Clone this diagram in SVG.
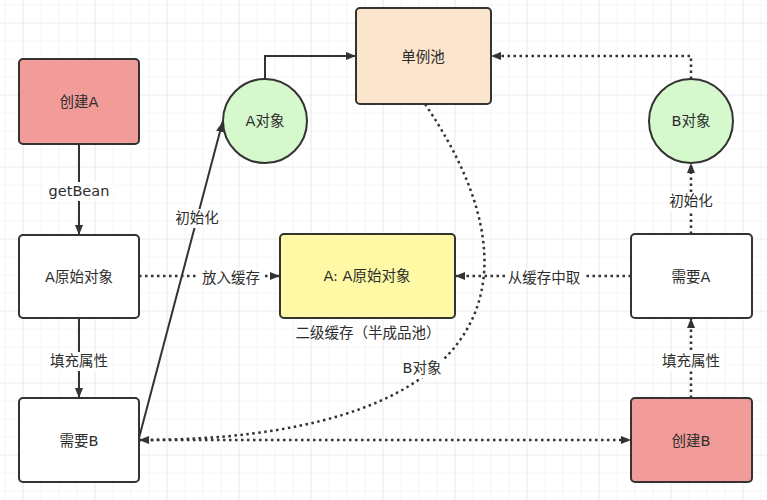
<svg xmlns="http://www.w3.org/2000/svg" width="767" height="500" viewBox="0 0 767 500">
<defs>
<pattern id="minor" x="4.5" y="4.5" width="18" height="18" patternUnits="userSpaceOnUse">
<path d="M0 0H18M0 0V18" fill="none" stroke="#efefef" stroke-width="1.2"/>
</pattern>
<pattern id="major" x="22.5" y="22.5" width="72" height="72" patternUnits="userSpaceOnUse">
<path d="M0 0H72M0 0V72" fill="none" stroke="#e3e3e3" stroke-width="1.2"/>
</pattern>
<marker id="arr" viewBox="0 0 10 10" refX="10" refY="5" markerWidth="10" markerHeight="10" markerUnits="userSpaceOnUse" orient="auto">
<path d="M0 1L10 5L0 9Z" fill="#333"/>
</marker>
</defs>
<style>
.box{stroke:#333;stroke-width:2}
.t{font-family:"DejaVu Sans","Noto Sans CJK SC",sans-serif;font-size:14.5px;fill:#2d2d2d;text-anchor:middle;dominant-baseline:central}
.ln{fill:none;stroke:#333;stroke-width:2}
.dot{fill:none;stroke:#333;stroke-width:2.5;stroke-dasharray:2.5 3.5}
.lb{fill:#fff}
</style>
<rect width="767" height="500" fill="#fff"/>
<rect width="767" height="500" fill="url(#minor)"/>
<rect width="767" height="500" fill="url(#major)"/>

<g id="connectors">
<path class="ln" d="M79 144V235" marker-end="url(#arr)"/>
<path class="ln" d="M79 318V398" marker-end="url(#arr)"/>
<path class="dot" d="M139 276H280" marker-end="url(#arr)"/>
<path class="ln" d="M139 438L222.5 122" marker-end="url(#arr)"/>
<path class="ln" d="M265 79V56H356" marker-end="url(#arr)"/>
<path class="dot" d="M691 79V56H491" marker-end="url(#arr)"/>
<path class="dot" d="M691 234V163" marker-end="url(#arr)"/>
<path class="dot" d="M631 276H455" marker-end="url(#arr)"/>
<path class="dot" d="M691 398V318" marker-end="url(#arr)"/>
<path class="dot" d="M139 440H631" marker-end="url(#arr)"/>
<path class="dot" d="M425 104C558 300 470 440 139 440" marker-end="url(#arr)"/>
<rect class="lb" x="45" y="182" width="68" height="19"/>
<text class="t" x="79" y="191">getBean</text>
<rect class="lb" x="46" y="352" width="66" height="19"/>
<text class="t" x="79" y="361">填充属性</text>
<rect class="lb" x="198" y="268" width="66" height="19"/>
<text class="t" x="231" y="278">放入缓存</text>
<rect class="lb" x="174" y="209" width="46" height="19"/>
<text class="t" x="197" y="218">初始化</text>
<rect class="lb" x="668" y="192" width="46" height="19"/>
<text class="t" x="691" y="201">初始化</text>
<rect class="lb" x="505" y="268" width="78" height="19"/>
<text class="t" x="544" y="278">从缓存中取</text>
<rect class="lb" x="658" y="352" width="66" height="19"/>
<text class="t" x="691" y="361">填充属性</text>
<rect class="lb" x="400" y="359" width="44" height="19"/>
<text class="t" x="422" y="368">B对象</text>
</g>

<g id="createA"><rect class="box" x="19" y="59" width="120" height="85" rx="4" fill="#f19c99"/><text class="t" x="79" y="102">创建A</text></g>
<g id="rawA"><rect class="box" x="19" y="235" width="120" height="83" rx="4" fill="#fff"/><text class="t" x="79" y="277">A原始对象</text></g>
<g id="needB"><rect class="box" x="19" y="398" width="120" height="84" rx="4" fill="#fff"/><text class="t" x="79" y="441">需要B</text></g>
<g id="objA"><circle class="box" cx="265" cy="121" r="42" fill="#d5f8cd"/><text class="t" x="265" y="121">A对象</text></g>
<g id="pool"><rect class="box" x="356" y="8" width="135" height="96" rx="4" fill="#fce5cd"/><text class="t" x="423" y="57">单例池</text></g>
<g id="objB"><circle class="box" cx="691" cy="121" r="42" fill="#d5f8cd"/><text class="t" x="691" y="121">B对象</text></g>
<g id="cache"><rect class="box" x="280" y="234" width="175" height="84" rx="4" fill="#fff9a6"/><text class="t" x="367" y="276">A: A原始对象</text><text class="t" x="368" y="333">二级缓存（半成品池）</text></g>
<g id="needA"><rect class="box" x="631" y="234" width="121" height="84" rx="4" fill="#fff"/><text class="t" x="691" y="277">需要A</text></g>
<g id="createB"><rect class="box" x="631" y="398" width="121" height="84" rx="4" fill="#f19c99"/><text class="t" x="691" y="441">创建B</text></g>
</svg>
